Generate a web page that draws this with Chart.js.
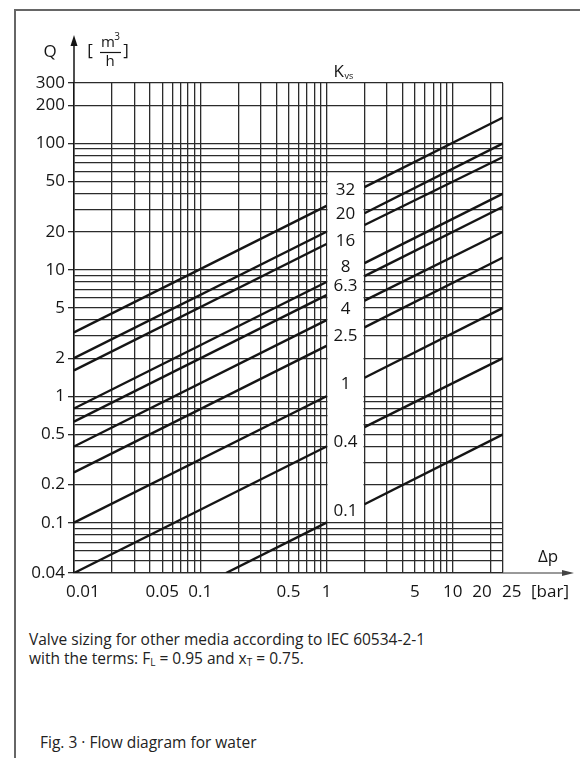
<!DOCTYPE html>
<html>
<head>
<meta charset="utf-8">
<script src="https://cdn.jsdelivr.net/npm/chart.js@4.4.1/dist/chart.umd.min.js"></script>
<style>
  html, body { margin: 0; padding: 0; background: #fff; }
  body { width: 580px; height: 758px; position: relative; overflow: hidden; font-family: "Open Sans", sans-serif; color: #222; }
  #frame { position: absolute; left: 14px; top: 9px; width: 600px; height: 800px; border-left: 2px solid #666; border-top: 2px solid #666; }
  #wrap { position: absolute; left: 0; top: 0; width: 580px; height: 620px; }
  .cap { position: absolute; font-size: 15.5px; line-height: 19px; white-space: nowrap; }
  .cap sub { font-size: 10px; vertical-align: -2px; }
</style>
</head>
<body>
<div id="frame"></div>
<div id="wrap"><canvas id="chart-flow" width="580" height="620"></canvas></div>
<div class="cap" style="left:29px; top:630px;">Valve sizing for other media according to IEC 60534-2-1<br>with the terms: F<sub>L</sub> = 0.95 and x<sub>T</sub> = 0.75.</div>
<div class="cap" style="left:40px; top:733px;">Fig. 3 · Flow diagram for water</div>
<script>
const colors = {
  ink: "#151515",
  grid: "#2b2b2b",
  axis: "#777777",
};

// Kvs values of the lines, top to bottom
const kvs = [32, 20, 16, 8, 6.3, 4, 2.5, 1, 0.4, 0.1];

// left segment: start point (Δp, Q) and end at Δp = 1
const leftStartDp = [0.01, 0.01, 0.01, 0.01, 0.01, 0.01, 0.01, 0.01, 0.01, 0.16];
const leftStartQ = [3.2, 2, 1.6, 0.8, 0.63, 0.4, 0.25, 0.1, 0.04, 0.04];
const leftEndDp = 1;
const leftEndQ = [32, 20, 16, 8, 6.3, 4, 2.5, 1, 0.4, 0.1];

// right segment: from Δp = 2 to Δp = 25
const rightStartDp = 2;
const rightStartQ = [45, 28, 22.6, 11.3, 8.9, 5.7, 3.5, 1.4, 0.57, 0.14];
const rightEndDp = 25;
const rightEndQ = [160, 100, 78, 40, 31.5, 20, 12.5, 5, 2, 0.5];

// where the Kvs numbers sit in the white column (Q value)
const kvsLabelQ = [43, 27.5, 16.8, 10.5, 7.4, 4.9, 3.0, 1.24, 0.43, 0.123];

// tick labels
const xLabels = [0.01, 0.05, 0.1, 0.5, 1, 5, 10, 20, 25];
const yLabels = [300, 200, 100, 50, 20, 10, 5, 2, 1, 0.5, 0.2, 0.1, 0.04];

// grid lines
const xGrid = [0.01, 0.02, 0.03, 0.04, 0.05, 0.06, 0.07, 0.08, 0.09,
  0.1, 0.2, 0.3, 0.4, 0.5, 0.6, 0.7, 0.8, 0.9,
  1, 2, 3, 4, 5, 6, 7, 8, 9, 10, 20, 25];
const yGrid = [0.04, 0.05, 0.06, 0.07, 0.08, 0.09,
  0.1, 0.2, 0.3, 0.4, 0.5, 0.6, 0.7, 0.8, 0.9,
  1, 2, 3, 4, 5, 6, 7, 8, 9,
  10, 20, 30, 40, 50, 60, 70, 80, 90, 100, 200, 300];

const xLabelText = { 0.01: "    0.01", 20: "20    ", 25: "    25" };

function renderFlowDiagram() {
  const datasets = [];
  kvs.forEach((k, i) => {
    const style = {
      label: "Kvs " + k,
      borderColor: colors.ink,
      backgroundColor: colors.ink,
      borderWidth: 2.4,
      pointRadius: 0,
      tension: 0,
    };
    datasets.push({
      ...style,
      data: [
        { x: leftStartDp[i], y: leftStartQ[i] },
        { x: leftEndDp, y: leftEndQ[i] },
      ],
    });
    datasets.push({
      ...style,
      data: [
        { x: rightStartDp, y: rightStartQ[i] },
        { x: rightEndDp, y: rightEndQ[i] },
      ],
    });
  });

  const overlay = {
    id: "overlay",
    beforeDatasetsDraw(chart) {
      const ctx = chart.ctx;
      const x = chart.scales.x;
      const y = chart.scales.y;
      // white column for the Kvs numbers
      const x1 = x.getPixelForValue(1) + 1;
      const x2 = x.getPixelForValue(2) - 1;
      const yTop = y.getPixelForValue(55);
      const yBot = y.getPixelForValue(0.105);
      ctx.save();
      ctx.fillStyle = "#fff";
      ctx.fillRect(x1, yTop, x2 - x1, yBot - yTop);
      ctx.restore();
    },
    afterDraw(chart) {
      const ctx = chart.ctx;
      const area = chart.chartArea;
      const x = chart.scales.x;
      const y = chart.scales.y;
      ctx.save();

      // y arrow
      ctx.strokeStyle = colors.ink;
      ctx.fillStyle = colors.ink;
      ctx.lineWidth = 1.5;
      ctx.beginPath();
      ctx.moveTo(area.left, area.top);
      ctx.lineTo(area.left, 44);
      ctx.stroke();
      ctx.beginPath();
      ctx.moveTo(area.left, 35);
      ctx.lineTo(area.left - 3.5, 46);
      ctx.lineTo(area.left + 3.5, 46);
      ctx.closePath();
      ctx.fill();

      // x arrow
      ctx.strokeStyle = colors.axis;
      ctx.fillStyle = "#444";
      ctx.lineWidth = 1.3;
      ctx.beginPath();
      ctx.moveTo(area.right, area.bottom);
      ctx.lineTo(564, area.bottom);
      ctx.stroke();
      ctx.beginPath();
      ctx.moveTo(574, area.bottom);
      ctx.lineTo(562, area.bottom - 3);
      ctx.lineTo(562, area.bottom + 3);
      ctx.closePath();
      ctx.fill();

      // axis titles
      ctx.fillStyle = colors.ink;
      ctx.textAlign = "center";
      ctx.textBaseline = "middle";
      ctx.font = "17px 'Open Sans'";
      ctx.fillText("Q", 50, 52);
      ctx.fillText("[", 90, 51);
      ctx.fillText("]", 126, 51);
      ctx.font = "15px 'Open Sans'";
      ctx.fillText("m", 108, 43);
      ctx.fillText("h", 110, 62);
      ctx.font = "10px 'Open Sans'";
      ctx.fillText("3", 117, 37);
      ctx.lineWidth = 1.2;
      ctx.strokeStyle = colors.ink;
      ctx.beginPath();
      ctx.moveTo(100, 52.5);
      ctx.lineTo(121, 52.5);
      ctx.stroke();

      ctx.font = "17px 'Open Sans'";
      ctx.fillText("\u0394p", 548, 557);
      ctx.fillText("[bar]", 550, 592);

      // Kvs column
      const cx = (x.getPixelForValue(1) + x.getPixelForValue(2)) / 2;
      ctx.textAlign = "left";
      ctx.font = "17px 'Open Sans'";
      ctx.fillText("K", cx - 12, 72);
      ctx.font = "9px 'Open Sans'";
      ctx.fillText("vs", cx - 1, 76);
      ctx.textAlign = "center";
      ctx.font = "17px 'Open Sans'";
      kvs.forEach((k, i) => {
        ctx.fillText(String(k), cx, y.getPixelForValue(kvsLabelQ[i]));
      });

      ctx.restore();
    },
  };

  const config = {
    type: "line",
    data: { datasets: datasets },
    options: {
      responsive: false,
      animation: false,
      layout: { padding: { left: 14, right: 77, top: 83, bottom: 7 } },
      plugins: {
        legend: { display: false },
        tooltip: { enabled: false },
      },
      scales: {
        x: {
          type: "logarithmic",
          min: 0.01,
          max: 25,
          afterBuildTicks: (scale) => {
            scale.ticks = xGrid.map((v) => ({ value: v }));
          },
          afterFit: (scale) => {
            scale.height = 40;
          },
          grid: {
            color: colors.grid,
            lineWidth: 1.3,
            drawTicks: false,
          },
          border: { color: colors.grid, width: 1.3 },
          ticks: {
            autoSkip: false,
            maxRotation: 0,
            padding: 9,
            color: colors.ink,
            font: { family: "Open Sans", size: 17 },
            callback: (v) => {
              if (!xLabels.includes(v)) return "";
              return xLabelText[v] || String(v);
            },
          },
        },
        y: {
          type: "logarithmic",
          min: 0.04,
          max: 300,
          afterBuildTicks: (scale) => {
            scale.ticks = yGrid.map((v) => ({ value: v }));
          },
          afterFit: (scale) => {
            scale.width = 60;
          },
          grid: {
            color: colors.grid,
            lineWidth: 1.3,
            tickLength: 6,
            tickColor: (ctx) =>
              ctx.tick && yLabels.includes(ctx.tick.value) ? colors.grid : "rgba(0,0,0,0)",
          },
          border: { color: colors.ink, width: 1.5 },
          ticks: {
            autoSkip: false,
            padding: 3,
            color: colors.ink,
            font: { family: "Open Sans", size: 17 },
            callback: (v) => (yLabels.includes(v) ? String(v) : ""),
          },
        },
      },
    },
    plugins: [overlay],
  };

  const myChart = new Chart(document.getElementById("chart-flow"), config);
}

renderFlowDiagram();
</script>
</body>
</html>
